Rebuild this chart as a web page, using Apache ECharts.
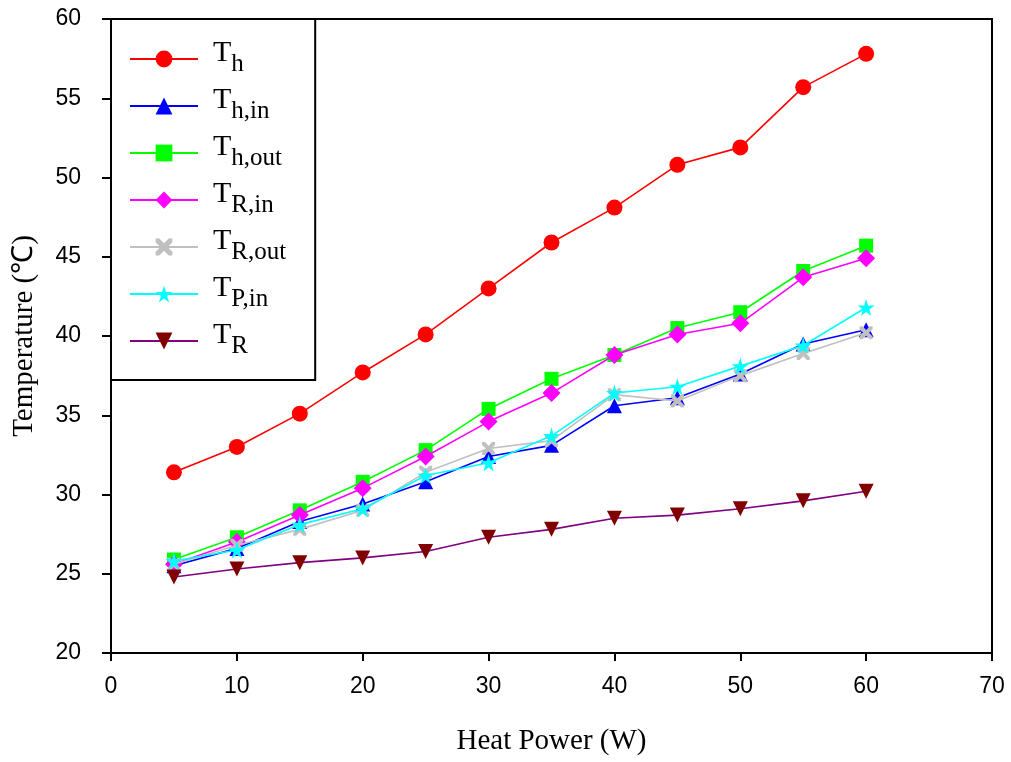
<!DOCTYPE html>
<html>
<head>
<meta charset="utf-8">
<script src="https://cdn.jsdelivr.net/npm/echarts@6/dist/echarts.min.js"></script>
<style>
  html, body { margin: 0; padding: 0; background: #fff; }
  #chart { width: 1011px; height: 762px; }
</style>
</head>
<body>
<div id="chart"></div>
<script>
// Heat power (W) on the x axis
const heatPower = [5, 10, 15, 20, 25, 30, 35, 40, 45, 50, 55, 60];

// Measured temperatures (°C)
const tH     = [31.4, 33.0, 35.1, 37.7, 40.1, 43.0, 45.9, 48.1, 50.8, 51.9, 55.7, 57.8];
const tHIn   = [25.5, 26.6, 28.3, 29.4, 30.8, 32.4, 33.1, 35.6, 36.1, 37.6, 39.5, 40.4];
const tHOut  = [25.9, 27.3, 29.0, 30.8, 32.8, 35.4, 37.3, 38.8, 40.5, 41.5, 44.1, 45.7];
const tRIn   = [25.6, 27.0, 28.7, 30.4, 32.4, 34.6, 36.4, 38.8, 40.1, 40.8, 43.7, 44.9];
const tROut  = [25.6, 26.8, 27.8, 29.0, 31.4, 32.9, 33.4, 36.3, 35.9, 37.5, 38.9, 40.2];
const tPIn   = [25.8, 26.5, 28.1, 29.1, 31.2, 32.0, 33.7, 36.4, 36.8, 38.1, 39.4, 41.8];
const tR     = [24.8, 25.3, 25.7, 26.0, 26.4, 27.3, 27.8, 28.5, 28.7, 29.1, 29.6, 30.2];

// Series labels: base letter + subscript
const seriesNames = ['Th', 'Th,in', 'Th,out', 'TR,in', 'TR,out', 'TP,in', 'TR'];
const seriesSubs  = ['h', 'h,in', 'h,out', 'R,in', 'R,out', 'P,in', 'R'];

// Tick values
const xTicks = { min: 0, max: 70, interval: 10 };
const yTicks = { min: 20, max: 60, interval: 5 };

const crossPath = 'path://M0,0 L2.2,0 L5,2.8 L7.8,0 L10,0 L10,2.2 L7.2,5 L10,7.8 L10,10 L7.8,10 L5,7.2 L2.2,10 L0,10 L0,7.8 L2.8,5 L0,2.2 Z';
const starPath = 'path://M50,0 L61,35 L98,35 L68,57 L79,91 L50,70 L21,91 L32,57 L2,35 L39,35 Z';

const styles = [
  { data: tH,    line: '#ff0000', mark: '#ff0000', symbol: 'circle',   size: 16 },
  { data: tHIn,  line: '#0000ff', mark: '#0000ff', symbol: 'triangle', size: 15 },
  { data: tHOut, line: '#00ff00', mark: '#00ff00', symbol: 'rect',     size: 14 },
  { data: tRIn,  line: '#ff00ff', mark: '#ff00ff', symbol: 'diamond',  size: 18 },
  { data: tROut, line: '#c0c0c0', mark: '#c0c0c0', symbol: crossPath,  size: 13 },
  { data: tPIn,  line: '#00ffff', mark: '#00ffff', symbol: starPath,   size: 17 },
  { data: tR,    line: '#800080', mark: '#800000', symbol: 'triangle', size: 15, rotate: 180 }
];

const series = styles.map((s, i) => ({
  name: seriesNames[i],
  type: 'line',
  data: heatPower.map((x, k) => [x, s.data[k]]),
  symbol: s.symbol,
  symbolSize: s.size,
  symbolRotate: s.rotate || 0,
  lineStyle: { color: s.line, width: 1.6 },
  itemStyle: { color: s.mark, borderWidth: 0 },
  z: 2 + i
}));

const axisText = { color: '#000', fontFamily: 'Liberation Sans, Arial, sans-serif', fontSize: 23 };
const nameText = { color: '#000', fontFamily: 'Liberation Serif, Times New Roman, serif', fontSize: 29 };

const chart = echarts.init(document.getElementById('chart'), null, { renderer: 'canvas' });
chart.setOption({
  animation: false,
  backgroundColor: '#fff',
  grid: {
    left: 111, top: 19, right: 19, bottom: 109,
    show: true, borderColor: '#000', borderWidth: 2, backgroundColor: 'transparent'
  },
  xAxis: {
    type: 'value',
    min: xTicks.min, max: xTicks.max, interval: xTicks.interval,
    name: 'Heat Power (W)',
    nameLocation: 'middle',
    nameGap: 74,
    nameTextStyle: nameText,
    axisLine: { show: true, lineStyle: { color: '#000', width: 2 } },
    axisTick: { show: true, inside: false, length: 8, lineStyle: { color: '#000', width: 2 } },
    axisLabel: Object.assign({ margin: 22 }, axisText),
    splitLine: { show: false }
  },
  yAxis: {
    type: 'value',
    min: yTicks.min, max: yTicks.max, interval: yTicks.interval,
    name: 'Temperature (℃)',
    nameLocation: 'middle',
    nameGap: 72,
    nameRotate: 90,
    nameTextStyle: nameText,
    axisLine: { show: true, lineStyle: { color: '#000', width: 2 } },
    axisTick: { show: true, inside: false, length: 9, lineStyle: { color: '#000', width: 2 } },
    axisLabel: Object.assign({ margin: 30 }, axisText),
    splitLine: { show: false }
  },
  legend: {
    left: 111, top: 19,
    orient: 'vertical',
    align: 'left',
    backgroundColor: '#fff',
    borderColor: '#000',
    borderWidth: 2,
    padding: [19, 29, 21, 18],
    itemWidth: 68,
    itemHeight: 21,
    itemGap: 8,
    data: seriesNames,
    formatter: name => '{t|T}{s|' + seriesSubs[seriesNames.indexOf(name)] + '}',
    textStyle: {
      color: '#000',
      rich: {
        t: { fontFamily: 'Liberation Serif, serif', fontSize: 30, lineHeight: 36, verticalAlign: 'bottom', padding: [0, 0, 9, 10] },
        s: { fontFamily: 'Liberation Serif, serif', fontSize: 25, lineHeight: 36, verticalAlign: 'bottom', padding: [0, 0, 0, 0] }
      }
    }
  },
  series: series
});
</script>
</body>
</html>
